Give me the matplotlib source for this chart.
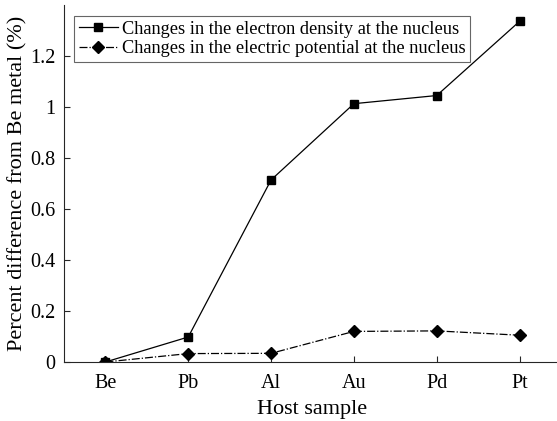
import matplotlib
matplotlib.use('Agg')
import matplotlib.pyplot as plt

# data
hosts = ['Be', 'Pb', 'Al', 'Au', 'Pd', 'Pt']
density = [0.0, 0.098, 0.714, 1.013, 1.045, 1.336]
potential = [0.0, 0.033, 0.034, 0.12, 0.122, 0.105]

plt.rcParams['font.family'] = ['Liberation Serif', 'DejaVu Serif']
plt.rcParams['mathtext.fontset'] = 'stix'

fig = plt.figure(figsize=(5.57, 4.21), dpi=100)
ax = fig.add_axes([64/557, 59/421, (561-64)/557, (362-5)/421])

x = list(range(1, len(hosts) + 1))
ax.plot(x, density, color='black', linestyle='-', linewidth=0.9,
        marker='s', markersize=5.5,
        label='Changes in the electron density at the nucleus')
ax.plot(x, potential, color='black', linestyle='-.', linewidth=0.9,
        marker='D', markersize=6,
        label='Changes in the electric potential at the nucleus')

ax.set_xlim(0.5, 6.5)
ax.set_ylim(0, 1.4)
ax.set_xticks(x)
ax.set_xticklabels(hosts)
ax.set_yticks([0, 0.2, 0.4, 0.6, 0.8, 1, 1.2])
ax.set_yticklabels(['0', '0.2', '0.4', '0.6', '0.8', '1', '1.2'])

for s in ['top', 'right']:
    ax.spines[s].set_visible(False)
for s in ['left', 'bottom']:
    ax.spines[s].set_color('#262626')
    ax.spines[s].set_linewidth(0.8)

ax.tick_params(direction='in', length=4, width=0.8, color='#262626',
               labelsize=14.5, labelcolor='black')
ax.tick_params(axis='y', pad=6)
ax.tick_params(axis='x', pad=8.5)

ax.set_xlabel('Host sample', fontsize=16, labelpad=5)
ax.set_ylabel('Percent difference from Be metal (%)', fontsize=16, labelpad=2)

leg = ax.legend(loc='upper left', bbox_to_anchor=(10/497, 1 - 11/357),
                fontsize=13.2, frameon=True, fancybox=False,
                borderpad=0.25, labelspacing=0.14, handlelength=2.15,
                handletextpad=0.2, borderaxespad=0)
leg.get_frame().set_edgecolor('#404040')
leg.get_frame().set_linewidth(0.8)

fig.savefig('out.png', dpi=100)
